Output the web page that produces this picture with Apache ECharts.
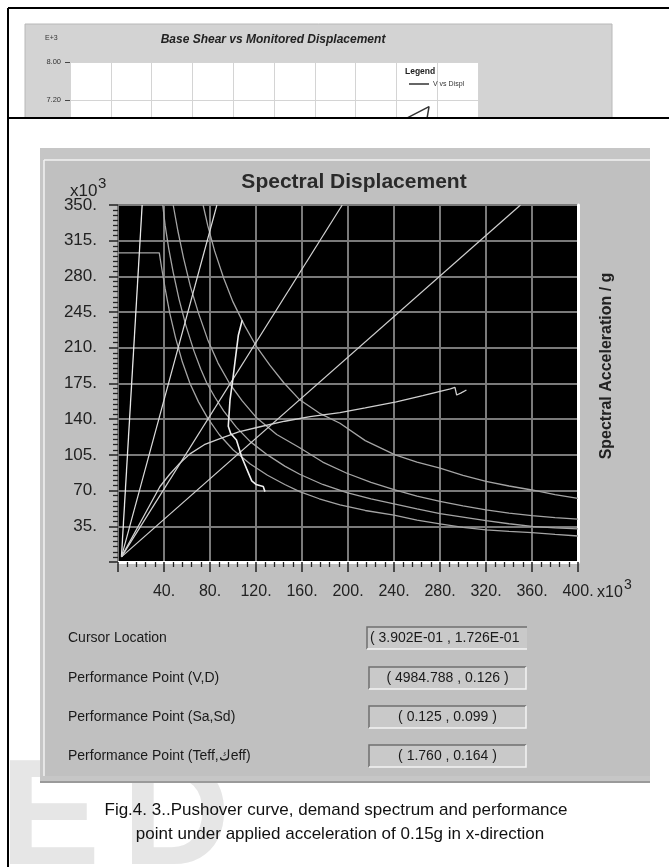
<!DOCTYPE html>
<html><head><meta charset="utf-8">
<script src="https://cdn.jsdelivr.net/npm/echarts/dist/echarts.min.js"></script>
<style>
html,body{margin:0;padding:0;background:#fff;}
#wrap{position:relative;width:669px;height:867px;overflow:hidden;background:#fff;}
#topBox{position:absolute;left:0;top:0;width:669px;height:118px;overflow:hidden;}
#topChart{width:669px;height:500px;}
#main{position:absolute;left:0;top:0;width:669px;height:867px;}
</style></head><body>
<div id="wrap"><div id="topBox"><div id="topChart"></div></div><div id="main"></div></div>
<script>
// ---------- data (Sd x10^3, Sa x10^3) ----------
const xTickValues = [40, 80, 120, 160, 200, 240, 280, 320, 360, 400];
const yTickValues = [35, 70, 105, 140, 175, 210, 245, 280, 315, 350];

const periodLine1 = [[3, 5], [21, 350]];
const periodLine2 = [[3, 5], [86, 350]];
const periodLine3 = [[3, 5], [195, 350]];
const periodLine4 = [[3, 5], [350, 350]];

const demandE1 = [[74,350],[78,330],[84,305],[92,278],[100,255],[110,232],[120,212],[132,193],[144,176],[158,159],[175,146],[193,136],[215,119],[241,105],[260,98],[280,92],[300,85],[320,79],[340,74.5],[360,70.6],[380,66],[400,62.4]];
const demandE2 = [[48,350],[52,325],[57,298],[63,270],[70,244],[78,218],[87,195],[97,175],[108,158],[120,142],[138,125],[158,112],[178,98],[199,87],[220,78],[240,71],[260,64.5],[280,59.5],[300,55],[320,51],[340,48],[360,45.5],[380,43.5],[400,42]];
const demandE3 = [[38.9,350],[41,330],[44,308],[48,284],[53,258],[59,232],[66,207],[72,189],[77,176],[84,162],[92,148],[103,132],[115,118],[130,105],[145,94],[158,86],[178,76],[199,68],[220,62],[240,57],[260,52],[280,47.5],[300,44],[320,40.5],[340,37.5],[360,35],[380,33.5],[400,32.5]];
const demandE4 = [[0,303],[35.9,303],[38,288],[41,268],[45,244],[50,220],[56,196],[62.6,175],[70,157],[78,141],[88,125],[100,110],[115,96],[130,85],[145,76],[158,69],[175,62],[193,56],[215,50.5],[240,46],[260,41],[280,37.3],[300,34],[320,31.4],[340,30],[360,28.7],[380,27],[400,25.5]];

const capacityCurve = [[3,5],[20,40],[36.5,74],[45,86],[53,96],[62.6,106],[75,115],[88.7,121],[105,127.5],[123.5,132.6],[145,138],[167,142.5],[193,146.5],[215,151],[242,157],[265,163],[289,169.8],[293,171.3],[294.5,163.7],[298,165.5],[303,168.6]];
const ppLocus = [[108,237],[104.6,222],[101.7,196],[99.5,176],[97.4,159],[95.9,133],[98,126],[103,119.6],[107.6,103],[112,91],[116.3,79.5],[120,76],[126.3,74],[127.5,72.5],[127.8,69]];

// top (background) chart: Base Shear (E+3) vs displacement
const pushoverTop = [[7.4,6.3],[8.1,6.75],[8.8,7.06],[8.74,6.76],[8.7,6.5]];

const infoLabels = ['Cursor Location', 'Performance Point (V,D)', 'Performance Point (Sa,Sd)', 'Performance Point (Teff,\u0643eff)'];
const infoValues = ['( 3.902E-01 , 1.726E-01', '( 4984.788 , 0.126 )', '( 0.125 , 0.099 )', '( 1.760 , 0.164 )'];

const FF = 'Liberation Sans, Arial, sans-serif';

// ---------- top chart ----------
const topChart = echarts.init(document.getElementById('topChart'), null, {renderer: 'canvas'});
topChart.setOption({
  animation: false,
  grid: {left: 70, top: 62, width: 408, height: 380, show: true, backgroundColor: '#fff', borderWidth: 0},
  xAxis: {type: 'value', min: 0, max: 10, interval: 1,
    axisLine: {show: false}, axisTick: {show: false}, axisLabel: {show: false},
    splitLine: {lineStyle: {color: '#d4d4d4', width: 1}}},
  yAxis: {type: 'value', min: 0, max: 8, interval: 0.8,
    axisLine: {show: false},
    axisTick: {show: true, length: 5, lineStyle: {color: '#444'}},
    axisLabel: {formatter: v => v.toFixed(2), fontSize: 7.5, color: '#333', margin: 9, fontFamily: FF},
    splitLine: {lineStyle: {color: '#d4d4d4', width: 1}}},
  series: [{type: 'line', data: pushoverTop, showSymbol: false, lineStyle: {color: '#333', width: 1.5}}],
  graphic: [
    {type: 'rect', z: -20, shape: {x: 25, y: 24, width: 587, height: 480}, style: {fill: '#d3d3d3', stroke: '#b8b8b8', lineWidth: 1}},
    {type: 'line', z: 10, shape: {x1: 8, y1: 8, x2: 669, y2: 8}, style: {stroke: '#000', lineWidth: 2}},
    {type: 'line', z: 10, shape: {x1: 8, y1: 8, x2: 8, y2: 500}, style: {stroke: '#000', lineWidth: 2}},
    {type: 'text', z: 10, style: {text: 'Base Shear vs Monitored Displacement', x: 273, y: 40, textAlign: 'center', textVerticalAlign: 'middle', fontSize: 12, fontWeight: 'bold', fontStyle: 'italic', fontFamily: FF, fill: '#222'}},
    {type: 'text', z: 10, style: {text: 'E+3', x: 45, y: 38, textVerticalAlign: 'middle', fontSize: 7, fontFamily: FF, fill: '#333'}},
    {type: 'text', z: 10, style: {text: 'Legend', x: 405, y: 72, textVerticalAlign: 'middle', fontSize: 8.5, fontWeight: 'bold', fontFamily: FF, fill: '#222'}},
    {type: 'line', z: 10, shape: {x1: 409, y1: 84, x2: 429, y2: 84}, style: {stroke: '#333', lineWidth: 1.5}},
    {type: 'text', z: 10, style: {text: 'V vs Displ', x: 433, y: 84, textVerticalAlign: 'middle', fontSize: 7, fontFamily: FF, fill: '#333'}}
  ]
});

// ---------- main chart ----------
const lineSeries = (data, color, width) => ({type: 'line', data: data, showSymbol: false, symbol: 'none', clip: true, animation: false, lineStyle: {color: color, width: width}, z: 3});

const graphics = [
  {type: 'rect', z: -100, shape: {x: 9, y: 119, width: 660, height: 748}, style: {fill: '#fff'}},
  {type: 'text', z: -95, style: {text: 'E', x: 0, y: 823, textVerticalAlign: 'middle', fontSize: 150, fontWeight: 'bold', fontFamily: FF, fill: '#e6e6e6'}},
  {type: 'text', z: -95, style: {text: 'D', x: 122, y: 823, textVerticalAlign: 'middle', fontSize: 150, fontWeight: 'bold', fontFamily: FF, fill: '#e6e6e6'}},
  {type: 'line', z: 50, shape: {x1: 8, y1: 118, x2: 669, y2: 118}, style: {stroke: '#000', lineWidth: 2}},
  {type: 'line', z: 50, shape: {x1: 8, y1: 118, x2: 8, y2: 867}, style: {stroke: '#000', lineWidth: 2}},
  {type: 'rect', z: -90, shape: {x: 40, y: 148, width: 610, height: 635}, style: {fill: '#c6c6c6'}},
  {type: 'rect', z: -89, shape: {x: 44, y: 160, width: 606, height: 616}, style: {fill: '#c0c0c0'}},
  {type: 'line', z: -88, shape: {x1: 44, y1: 160, x2: 650, y2: 160}, style: {stroke: '#f2f2f2', lineWidth: 1.5}},
  {type: 'line', z: -88, shape: {x1: 44, y1: 160, x2: 44, y2: 776}, style: {stroke: '#f2f2f2', lineWidth: 1.5}},
  {type: 'line', z: -88, shape: {x1: 40, y1: 782, x2: 650, y2: 782}, style: {stroke: '#9a9a9a', lineWidth: 2}},
  {type: 'text', z: 20, style: {text: 'Spectral Displacement', x: 354, y: 182, textAlign: 'center', textVerticalAlign: 'middle', fontSize: 21, fontWeight: 'bold', fontFamily: FF, fill: '#2a2a2a'}},
  {type: 'text', z: 20, style: {text: 'x10', x: 70, y: 191, textVerticalAlign: 'middle', fontSize: 17, fontFamily: FF, fill: '#222'}},
  {type: 'text', z: 20, style: {text: '3', x: 98, y: 184, textVerticalAlign: 'middle', fontSize: 15, fontFamily: FF, fill: '#222'}},
  {type: 'text', z: 20, style: {text: 'x10', x: 597, y: 593, textVerticalAlign: 'middle', fontSize: 16, fontFamily: FF, fill: '#222'}},
  {type: 'text', z: 20, style: {text: '3', x: 624, y: 585, textVerticalAlign: 'middle', fontSize: 14, fontFamily: FF, fill: '#222'}},
  {type: 'text', z: 20, rotation: Math.PI / 2, x: 607, y: 366, style: {text: 'Spectral Acceleration / g', x: 0, y: 0, textAlign: 'center', textVerticalAlign: 'middle', fontSize: 16, fontWeight: 'bold', fontFamily: FF, fill: '#222'}},
  {type: 'text', z: 20, style: {text: 'Fig.4. 3..Pushover curve, demand spectrum and performance', x: 336, y: 810, textAlign: 'center', textVerticalAlign: 'middle', fontSize: 17, fontFamily: FF, fill: '#111'}},
  {type: 'text', z: 20, style: {text: 'point under applied acceleration of 0.15g in x-direction', x: 340, y: 834, textAlign: 'center', textVerticalAlign: 'middle', fontSize: 17, fontFamily: FF, fill: '#111'}}
];

const rowY = [638, 678, 717, 756];
rowY.forEach((cy, i) => {
  graphics.push({type: 'text', z: 20, style: {text: infoLabels[i], x: 68, y: cy, textVerticalAlign: 'middle', fontSize: 14, fontFamily: FF, fill: '#1a1a1a'}});
  const bx = i === 0 ? 367 : 369, bw = i === 0 ? 160 : 157, by = cy - 11, bh = 22;
  graphics.push({type: 'rect', z: 15, shape: {x: bx, y: by, width: bw, height: bh}, style: {fill: '#c9c9c9'}});
  graphics.push({type: 'polyline', z: 16, shape: {points: [[bx, by + bh], [bx, by], [bx + bw, by]]}, style: {stroke: '#6f6f6f', lineWidth: 1.5, fill: null}});
  graphics.push({type: 'polyline', z: 16, shape: {points: i === 0 ? [[bx, by + bh], [bx + bw, by + bh]] : [[bx, by + bh], [bx + bw, by + bh], [bx + bw, by]]}, style: {stroke: '#f4f4f4', lineWidth: 1.5, fill: null}});
  if (i === 0) {
    graphics.push({type: 'text', z: 20, style: {text: infoValues[i], x: bx + 3, y: cy, textVerticalAlign: 'middle', fontSize: 14, fontFamily: FF, fill: '#1a1a1a'}});
  } else {
    graphics.push({type: 'text', z: 20, style: {text: infoValues[i], x: bx + bw / 2, y: cy, textAlign: 'center', textVerticalAlign: 'middle', fontSize: 14, fontFamily: FF, fill: '#1a1a1a'}});
  }
});

const mainChart = echarts.init(document.getElementById('main'), null, {renderer: 'canvas'});
mainChart.setOption({
  animation: false,
  backgroundColor: 'transparent',
  grid: {left: 118, top: 205, width: 460, height: 357, show: true, backgroundColor: '#000', borderColor: '#6e6e6e', borderWidth: 1},
  xAxis: {type: 'value', min: 0, max: 400, interval: 40,
    axisLine: {show: true, onZero: false, lineStyle: {color: '#ffffff', width: 3}},
    axisTick: {show: true, length: 10, lineStyle: {color: '#222', width: 1.5}},
    minorTick: {show: true, splitNumber: 5, length: 5, lineStyle: {color: '#222', width: 1.3}},
    axisLabel: {formatter: v => (xTickValues.indexOf(v) >= 0 ? v + '.' : ''), fontSize: 16, color: '#222', margin: 22, fontFamily: FF},
    splitLine: {show: true, lineStyle: {color: '#7a7a7a', width: 2}}},
  yAxis: [
    {type: 'value', min: 0, max: 350, interval: 35,
      axisLine: {show: false},
      axisTick: {show: true, length: 9, lineStyle: {color: '#222', width: 1.5}},
      minorTick: {show: true, splitNumber: 7, length: 5, lineStyle: {color: '#222', width: 1.3}},
      axisLabel: {formatter: v => (yTickValues.indexOf(v) >= 0 ? v + '.' : ''), fontSize: 17, color: '#222', margin: 21, fontFamily: FF},
      splitLine: {show: true, lineStyle: {color: '#7a7a7a', width: 2}}},
    {type: 'value', min: 0, max: 350, interval: 35, position: 'right',
      axisLine: {show: true, lineStyle: {color: '#ffffff', width: 3}},
      axisTick: {show: false}, axisLabel: {show: false}, splitLine: {show: false}}
  ],
  series: [
    lineSeries(demandE1, '#a4a4a4', 1.3),
    lineSeries(demandE2, '#a4a4a4', 1.3),
    lineSeries(demandE3, '#a4a4a4', 1.3),
    lineSeries(demandE4, '#a4a4a4', 1.3),
    lineSeries(periodLine1, '#e6e6e6', 1.3),
    lineSeries(periodLine2, '#dcdcdc', 1.2),
    lineSeries(periodLine3, '#d4d4d4', 1.2),
    lineSeries(periodLine4, '#d0d0d0', 1.2),
    lineSeries(capacityCurve, '#cfcfcf', 1.3),
    lineSeries(ppLocus, '#f0f0f0', 1.6)
  ],
  graphic: graphics
});
</script>
</body></html>
